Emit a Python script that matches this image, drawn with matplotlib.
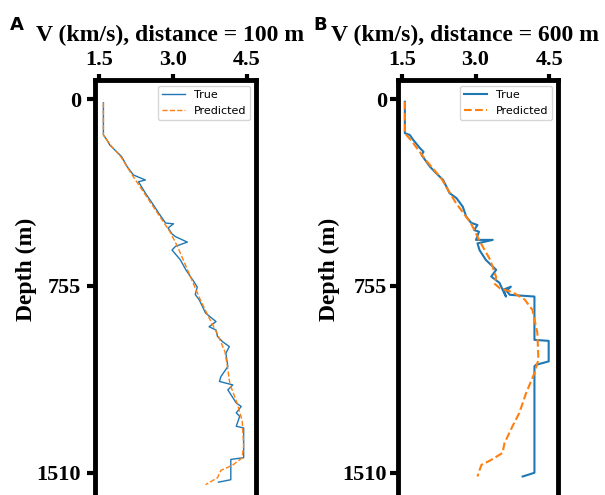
import numpy as np
import matplotlib
matplotlib.use('Agg')
import matplotlib.pyplot as plt

# Panel A: distance = 100 m  (velocity km/s, depth m)
v_a_true = [1.59, 1.59, 1.66, 1.72, 1.86, 1.96, 2.07, 2.20, 2.44, 2.30, 2.44, 2.58, 2.71,
            2.85, 3.01, 2.90, 2.98, 3.05, 3.29, 3.05, 2.98, 3.15, 3.26, 3.42, 3.49, 3.45,
            3.53, 3.66, 3.87, 3.73, 3.87, 3.90, 4.00, 4.14, 4.07, 4.11, 3.97, 3.94, 4.21,
            4.11, 4.28, 4.38, 4.28, 4.35, 4.28, 4.43, 4.43, 4.17, 4.17, 3.92]
d_a_true = [15, 145, 165, 186, 213, 233, 273, 307, 327, 334, 380, 421, 461,
            501, 504, 521, 545, 556, 578, 595, 610, 650, 690, 737, 760, 790,
            811, 865, 899, 920, 933, 959, 980, 1000, 1027, 1081, 1121, 1141, 1155,
            1175, 1228, 1242, 1268, 1282, 1322, 1329, 1449, 1456, 1538, 1548]
v_a_pred = [1.59, 1.59, 1.75, 1.95, 2.15, 2.35, 2.55, 2.75, 2.95, 3.10, 3.25, 3.40, 3.55,
            3.72, 3.90, 4.05, 4.10, 4.15, 4.30, 4.40, 4.43, 4.40, 4.20, 3.97, 3.90, 3.66]
d_a_pred = [15, 145, 190, 235, 300, 360, 420, 480, 540, 600, 670, 740, 810,
            880, 950, 1020, 1080, 1150, 1230, 1300, 1400, 1450, 1480, 1500, 1530, 1558]

# Panel B: distance = 600 m
v_b_true = [1.56, 1.56, 1.66, 1.73, 1.87, 1.94, 1.90, 2.07, 2.20, 2.34, 2.47, 2.61, 2.74,
            2.81, 2.91, 3.04, 2.97, 3.07, 3.01, 3.35, 3.04, 3.08, 3.21, 3.42, 3.32,
            3.49, 3.55, 3.62, 3.57, 3.72, 3.63, 3.70, 4.20, 4.20, 4.49, 4.49, 4.23,
            4.20, 4.20, 3.96]
d_b_true = [11, 138, 145, 165, 199, 213, 226, 273, 300, 327, 380, 400, 435,
            475, 500, 509, 529, 536, 569, 569, 583, 610, 650, 690, 717,
            743, 770, 798, 770, 758, 775, 791, 798, 973, 977, 1060, 1074,
            1080, 1510, 1525]
v_b_pred = [1.56, 1.56, 1.70, 2.00, 2.30, 2.60, 2.90, 3.10, 3.30, 3.42, 3.38, 3.50, 3.75,
            4.00, 4.16, 4.26, 4.28, 4.20, 4.03, 3.89, 3.75, 3.59, 3.55, 3.30, 3.12,
            3.08, 3.04]
d_b_pred = [11, 138, 170, 250, 320, 420, 500, 580, 650, 720, 745, 765, 780,
            810, 852, 945, 1053, 1107, 1188, 1269, 1323, 1390, 1430, 1460, 1478,
            1500, 1525]

panels = [
    ('A', 'V (km/s), distance = 100 m', v_a_true, d_a_true, v_a_pred, d_a_pred, 1.0),
    ('B', 'V (km/s), distance = 600 m', v_b_true, d_b_true, v_b_pred, d_b_pred, 1.5),
]
x_ticks = [1.5, 3.0, 4.5]
y_ticks = [0, 755, 1510]

serif = 'Liberation Serif'
fig = plt.figure(figsize=(6.05, 4.95), dpi=100)
lefts = [95 / 605, 398 / 605]
widths = [161 / 605, 160 / 605]
title_x = [0.466, 0.419]   # title centres, axes fraction
letter_x = [10 / 605, 313 / 605]

for i, (letter, title, vt, dt, vp, dp, lw) in enumerate(panels):
    ax = fig.add_axes([lefts[i], -5 / 495, widths[i], 420 / 495])
    ax.plot(vt, dt, color='#1f77b4', lw=lw, label='True')
    ax.plot(vp, dp, color='#ff7f0e', lw=lw, ls='--', label='Predicted')
    ax.set_xlim(1.42, 4.68)
    ax.set_ylim(1620, -77)
    ax.xaxis.tick_top()
    ax.set_xticks(x_ticks)
    ax.set_xticklabels(['%.1f' % t for t in x_ticks], fontfamily=serif,
                       fontweight='bold', fontsize=16)
    ax.set_yticks(y_ticks)
    ax.set_yticklabels([str(t) for t in y_ticks], fontfamily=serif,
                       fontweight='bold', fontsize=16)
    ax.tick_params(axis='x', length=4, width=3, pad=3)
    ax.tick_params(axis='y', length=6, width=3, pad=4 if i == 0 else 2)
    for s in ax.spines.values():
        s.set_linewidth(3.5)
    ax.set_ylabel('Depth (m)', fontfamily=serif, fontweight='bold', fontsize=17)
    ax.yaxis.set_label_coords(-0.36, 0.55)
    ax.text(title_x[i], 1 + 39 / 420, title, transform=ax.transAxes,
            ha='center', va='baseline', fontfamily=serif, fontweight='bold',
            fontsize=17)
    ax.legend(loc='upper right', fontsize=8)
    fig.text(letter_x[i], 1 - 30 / 495, letter,
             fontsize=13, fontweight='bold', family='DejaVu Sans')

fig.savefig('out.png', dpi=100)
